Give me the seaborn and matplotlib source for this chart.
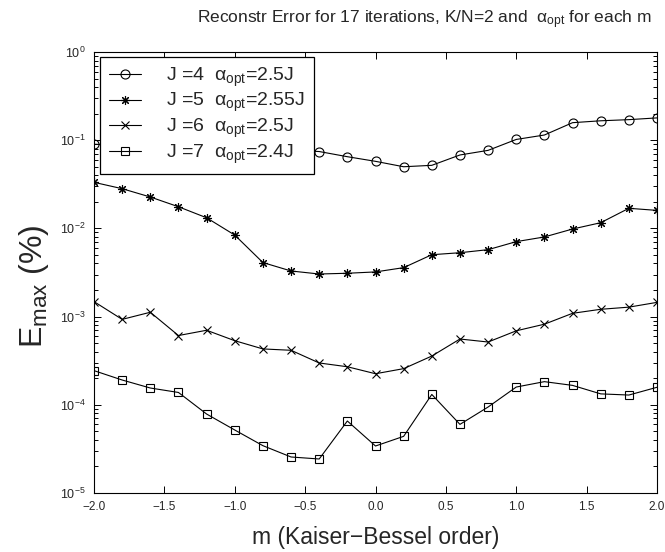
import numpy as np
import pandas as pd
import matplotlib
matplotlib.use("Agg")
import matplotlib.pyplot as plt
import seaborn as sns
from matplotlib.ticker import LogLocator, MultipleLocator, NullFormatter

m_values = [-2.0, -1.8, -1.6, -1.4, -1.2, -1.0, -0.8, -0.6, -0.4, -0.2, 0.0,
            0.2, 0.4, 0.6, 0.8, 1.0, 1.2, 1.4, 1.6, 1.8, 2.0]

err_j4 = [0.090, 0.088, 0.086, 0.084, 0.083, 0.081, 0.079, 0.077, 0.0744, 0.065, 0.0576,
          0.050, 0.0519, 0.068, 0.0767, 0.102, 0.1145, 0.158, 0.166, 0.171, 0.179]
err_j5 = [0.0333, 0.0282, 0.0227, 0.0176, 0.0132, 0.0084, 0.0041, 0.00329, 0.00304, 0.0031, 0.00321,
          0.00359, 0.00503, 0.0053, 0.00574, 0.00708, 0.0080, 0.00984, 0.0116, 0.0169, 0.0160]
err_j6 = [0.00148, 0.00093, 0.00112, 0.00061, 0.00070, 0.000533, 0.00043, 0.000415, 0.000298, 0.00027, 0.000225,
          0.000257, 0.000357, 0.000557, 0.000515, 0.00069, 0.00082, 0.00109, 0.00121, 0.00128, 0.00145]
err_j7 = [0.000244, 0.000191, 0.000155, 0.000138, 7.86e-5, 5.18e-5, 3.44e-5, 2.56e-5, 2.43e-5, 6.55e-5, 3.41e-5,
          4.39e-5, 0.000131, 6.0e-5, 9.44e-5, 0.000159, 0.000183, 0.000166, 0.000133, 0.000129, 0.000158]

series_labels = ["J =4  α$_{\\mathrm{opt}}$=2.5J",
                 "J =5  α$_{\\mathrm{opt}}$=2.55J",
                 "J =6  α$_{\\mathrm{opt}}$=2.5J",
                 "J =7  α$_{\\mathrm{opt}}$=2.4J"]
series_values = [err_j4, err_j5, err_j6, err_j7]
series_markers = ["o", (8, 2, 0), "x", "s"]
series_msize = [6.5, 6.5, 5.5, 5.5]

title_text = "Reconstr Error for 17 iterations, K/N=2 and  α$_{\\mathrm{opt}}$ for each m"
xlabel_text = "m (Kaiser\u2212Bessel order)"
ylabel_text = "E$_{\\mathrm{max}}$ (%)"

sns.set_theme(style="ticks")
plt.rcParams["font.family"] = ["Liberation Sans", "DejaVu Sans"]
plt.rcParams["mathtext.fontset"] = "custom"
plt.rcParams["mathtext.rm"] = "Liberation Sans"
plt.rcParams["mathtext.it"] = "Liberation Sans:italic"
plt.rcParams["mathtext.bf"] = "Liberation Sans:bold"
plt.rcParams["axes.unicode_minus"] = True

W, H = 665, 552
fig = plt.figure(figsize=(W/100, H/100), dpi=100)
ax = fig.add_axes([94/W, 1-493/H, (657-94)/W, (493-52)/H])

for lab, vals, mk, ms in zip(series_labels, series_values, series_markers, series_msize):
    df = pd.DataFrame({"m": m_values, "E": vals})
    sns.lineplot(data=df, x="m", y="E", ax=ax, color="black", linewidth=0.8,
                 marker=mk, markersize=ms, markerfacecolor="none",
                 markeredgecolor="black", markeredgewidth=0.8, label=lab)

ax.set_yscale("log")
ax.set_xlim(-2, 2)
ax.set_ylim(1e-5, 1e0)
ax.xaxis.set_major_locator(MultipleLocator(0.5))
ax.yaxis.set_major_locator(LogLocator(base=10, numticks=10))
ax.yaxis.set_minor_locator(LogLocator(base=10, subs=np.arange(2, 10), numticks=20))
ax.yaxis.set_minor_formatter(NullFormatter())
ax.tick_params(which="both", direction="in", top=True, right=True, color="black", width=0.7)
ax.tick_params(which="major", length=5, pad=6)
ax.tick_params(axis="x", labelsize=8.5)
ax.tick_params(axis="y", labelsize=9)
ax.tick_params(which="minor", length=3)
for sp in ax.spines.values():
    sp.set_color("black")
    sp.set_linewidth(0.8)

fig.text(652/W, 1-23/H, title_text, fontsize=12.5, ha="right", va="baseline")
ax.set_xlabel(xlabel_text, fontsize=16.5, labelpad=9)
ax.set_ylabel(ylabel_text, fontsize=23)
ax.yaxis.set_label_coords(-0.076, 0.47)

leg = ax.legend(loc="upper left", bbox_to_anchor=(0.0107, 0.9887), fontsize=14,
                frameon=True, fancybox=False, edgecolor="black", framealpha=1,
                handlelength=1.65, handletextpad=1.3, labelspacing=0.12,
                borderpad=0.45, borderaxespad=0)
leg.get_frame().set_linewidth(0.9)

fig.savefig("out.png", dpi=100)
